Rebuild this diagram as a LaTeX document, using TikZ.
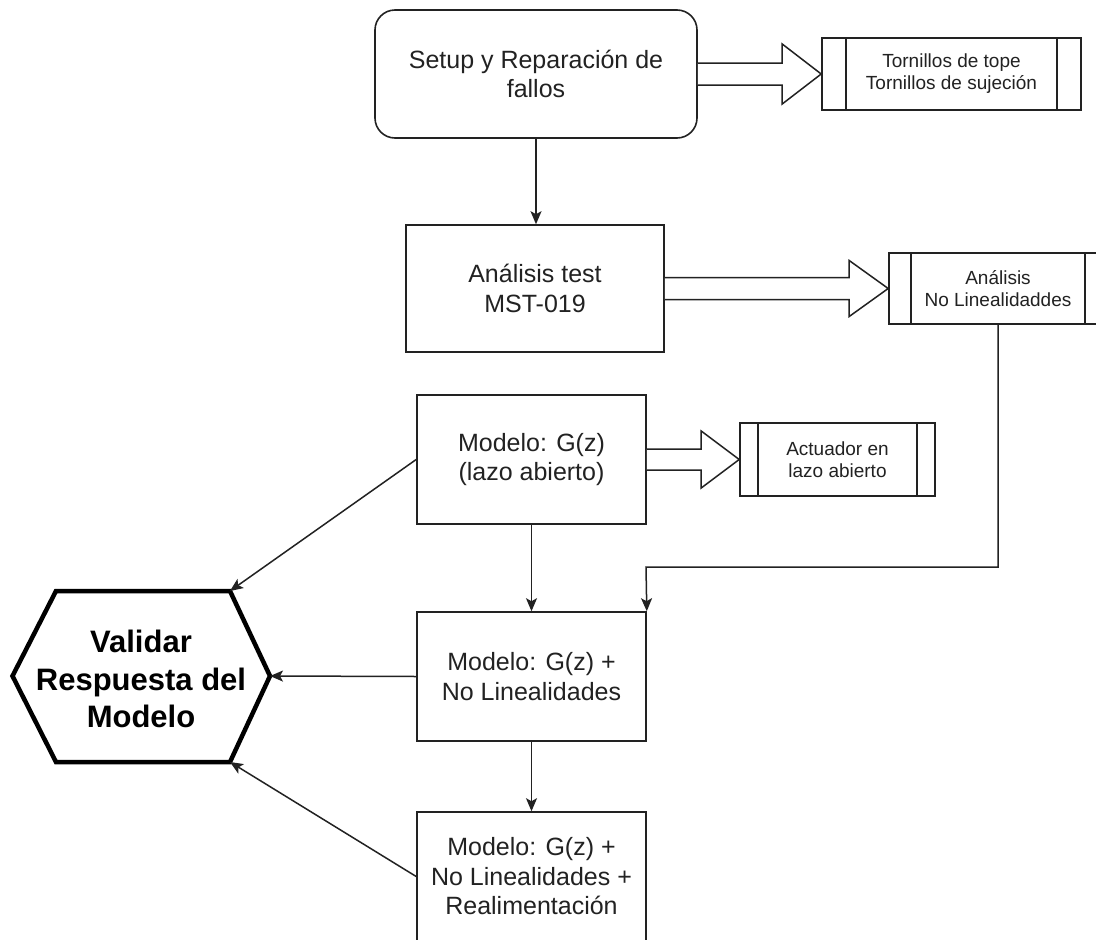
\documentclass[tikz,border=0pt]{standalone}
\usepackage{fontspec}
\setmainfont{Liberation Sans}
\usetikzlibrary{arrows.meta,calc}
\definecolor{ln}{HTML}{222222}
\tikzset{
 box/.style={draw=ln, line width=1.6pt, fill=white, align=center, text=ln, font=\fontsize{25}{29.5}\selectfont, inner sep=0pt},
 subproc/.style={draw=ln, line width=1.6pt, fill=white, align=center, text=ln, font=\fontsize{19}{22}\selectfont, inner sep=0pt},
 conn/.style={draw=ln, line width=1.5pt, -{Stealth[length=13pt,width=11pt,inset=3pt]}},
 barrow/.style={draw=ln, line width=1.5pt, fill=white, line join=miter},
 hexa/.style={draw=black, line width=4.5pt, line join=miter},
 hextext/.style={align=center, text=black, font=\fontsize{31}{37.5}\selectfont\bfseries, inner sep=0pt}
}
\newcommand{\blockarr}[5]{\draw[barrow] let \p1=(#1), \p2=(#2) in (\x1,\y1+#3) -- (\x2-#5,\y1+#3) -- (\x2-#5,\y1+#4) -- (\x2,\y1) -- (\x2-#5,\y1-#4) -- (\x2-#5,\y1-#3) -- (\x1,\y1-#3);}
\newcommand{\subdiv}[2]{\draw[ln, line width=1.6pt] ([xshift=#2]#1.north west) -- ([xshift=#2]#1.south west); \draw[ln, line width=1.6pt] ([xshift=-#2]#1.north east) -- ([xshift=-#2]#1.south east);}
\begin{document}
\begin{tikzpicture}[x=1pt,y=-1pt]
\useasboundingbox (0,0) rectangle (1096,940);
\clip (0,0) rectangle (1096,940);
\fill[white] (0,0) rectangle (1096,940);

% main boxes
\node[box, rounded corners=20pt, minimum width=322pt, minimum height=128pt] (setup) at (536,74) {Setup y Reparación de\\fallos};
\node[box, minimum width=258pt, minimum height=127pt] (test) at (535,288.5) {Análisis test\\MST-019};
\node[box, minimum width=229pt, minimum height=129pt] (m1) at (531.5,459.5) {Modelo: G(z)\\(lazo abierto)};
\node[box, minimum width=229pt, minimum height=129pt] (m2) at (531.5,676.5) {Modelo: G(z) +\\No Linealidades};
\node[box, minimum width=229pt, minimum height=129pt] (m3) at (531.5,876.5) {Modelo: G(z) +\\No Linealidades +\\Realimentación};

% subprocess boxes
\node[subproc, minimum width=259pt, minimum height=72pt] (torn) at (951.5,74) {Tornillos de tope\\Tornillos de sujeción};
\subdiv{torn}{25pt}
\node[subproc, minimum width=218pt, minimum height=71pt] (nl) at (998,288.5) {Análisis\\No Linealidaddes};
\subdiv{nl}{23pt}
\node[subproc, minimum width=195pt, minimum height=73pt] (act) at (837.5,459.5) {Actuador en\\lazo abierto};
\subdiv{act}{19pt}

% block arrows
\blockarr{setup.east}{torn.west}{11pt}{30pt}{39pt}
\blockarr{test.east}{nl.west}{11pt}{28pt}{39pt}
\blockarr{m1.east}{act.west}{10.5pt}{28.5pt}{38pt}

% hexagon
\coordinate (hL) at (12.5,676);
\coordinate (hTL) at (56,591);
\coordinate (hTR) at (230,591);
\coordinate (hR) at (270,676);
\coordinate (hBR) at (230,762);
\coordinate (hBL) at (56,762);
\draw[hexa] (hL) -- (hTL) -- (hTR) -- (hR) -- (hBR) -- (hBL) -- cycle;
\node[hextext] (hex) at (141,679) {Validar\\Respuesta del\\Modelo};

% connectors
\draw[conn] (setup.south) -- (setup.south |- test.north);
\draw[conn] (m1.south) -- (m2.north);
\draw[conn] (m2.south) -- (m3.north);
\coordinate (bend) at (646,567);
\draw[conn] (nl.south) |- (bend) -- (m2.north east);
\draw[conn] (m1.west) -- (hTR);
\draw[conn] (m2.west) -- (hR);
\draw[conn] (m3.west) -- (hBR);
\end{tikzpicture}
\end{document}
